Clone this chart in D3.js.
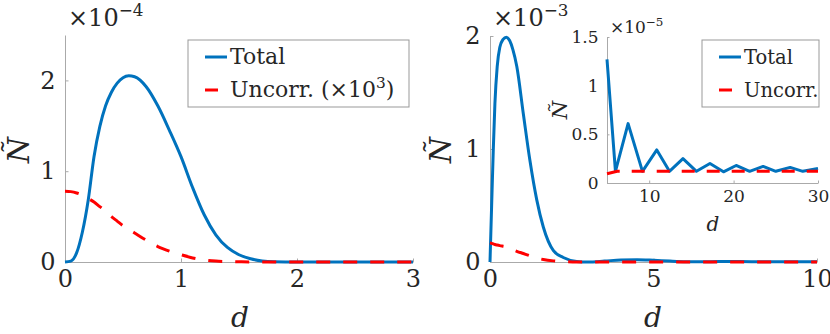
<!DOCTYPE html>
<html>
<head>
<meta charset="utf-8">
<script src="https://cdn.jsdelivr.net/npm/d3@7"></script>
<style>
  body { margin: 0; background: #fff; }
  svg text { font-family: "DejaVu Serif", "Liberation Serif", serif; fill: #262626; }
</style>
</head>
<body>
<svg id="chart" width="830" height="334"></svg>
<script>
// left panel, values in units of 1e-4 (uncorr already x1e3)
var leftD      = [0, 0.05, 0.1, 0.15, 0.2, 0.25, 0.3, 0.35, 0.4, 0.45, 0.5, 0.55, 0.6, 0.7, 0.8, 0.9, 1.0, 1.1, 1.2, 1.3, 1.4, 1.5, 1.6, 1.7, 1.8, 2.0, 2.5, 3.0];
var leftTotal  = [0, 0.01, 0.1, 0.33, 0.68, 1.16, 1.49, 1.72, 1.87, 1.97, 2.03, 2.05, 2.04, 1.93, 1.72, 1.45, 1.16, 0.82, 0.52, 0.3, 0.16, 0.08, 0.035, 0.012, 0.003, 0, 0, 0];
var leftUncorr = [0.78, 0.775, 0.76, 0.735, 0.7, 0.66, 0.61, 0.56, 0.5, 0.45, 0.4, 0.36, 0.32, 0.24, 0.17, 0.12, 0.08, 0.045, 0.022, 0.01, 0.005, 0.002, 0, 0, 0, 0, 0, 0];

// right panel, values in units of 1e-3
var rightD      = [0, 0.05, 0.1, 0.15, 0.22, 0.3, 0.4, 0.5, 0.6, 0.7, 0.82, 1.02, 1.22, 1.43, 1.63, 1.94, 2.24, 2.65, 3.0, 3.5, 4.0, 4.5, 5.0, 5.5, 6.0, 6.5, 7.0, 8.0, 9.0, 10.0];
var rightTotal  = [0, 0.5, 0.99, 1.4, 1.73, 1.9, 1.97, 1.99, 1.96, 1.88, 1.73, 1.31, 0.9, 0.55, 0.31, 0.1, 0.04, 0.005, 0, 0.008, 0.018, 0.02, 0.015, 0.008, 0.003, 0.002, 0.004, 0.003, 0.002, 0.002];
var rightUncorr = [0.17, 0.165, 0.16, 0.155, 0.15, 0.145, 0.14, 0.135, 0.125, 0.11, 0.095, 0.075, 0.055, 0.035, 0.022, 0.01, 0.004, 0, 0, 0, 0, 0, 0, 0, 0, 0, 0, 0, 0, 0];

// inset, values in units of 1e-5
var insetD      = [5, 6, 7.5, 9.2, 10.9, 12.4, 14, 15.6, 17.2, 18.8, 20.3, 21.9, 23.5, 25, 26.7, 28.2, 30];
var insetTotal  = [1.27, 0.12, 0.61, 0.12, 0.34, 0.12, 0.25, 0.12, 0.2, 0.115, 0.18, 0.12, 0.17, 0.12, 0.16, 0.12, 0.15];
var insetUncorrD = [5, 6.2, 30];
var insetUncorr  = [0.095, 0.12, 0.12];

var leftTicksX = [0, 1, 2, 3], leftTicksY = [0, 1, 2];
var rightTicksX = [0, 5, 10], rightTicksY = [0, 1, 2];
var insetTicksX = [10, 20, 30], insetTicksY = [0, 0.5, 1, 1.5];

var blue = "#0072BD", red = "#FF0000";
var svg = d3.select("#chart");

function panel(o) {
  var x = d3.scaleLinear().domain(o.xDom).range(o.xRange);
  var y = d3.scaleLinear().domain(o.yDom).range(o.yRange);
  var g = svg.append("g");
  if (o.bg) {
    g.append("rect").attr("x", o.xRange[0]).attr("y", o.yRange[1])
      .attr("width", o.xRange[1] - o.xRange[0]).attr("height", o.yRange[0] - o.yRange[1])
      .attr("fill", "#fff");
  }

  // axes: left and bottom only, ticks pointing inward
  var xAxis = d3.axisBottom(x).tickValues(o.xTicks).tickSizeInner(-o.tick).tickSizeOuter(0).tickPadding(o.tick + 4).tickFormat(d3.format("~g"));
  var yAxis = d3.axisLeft(y).tickValues(o.yTicks).tickSizeInner(-o.tick).tickSizeOuter(0).tickPadding(o.tick + 6).tickFormat(d3.format("~g"));
  var gx = g.append("g").attr("transform", "translate(0," + o.yRange[0] + ")").call(xAxis);
  var gy = g.append("g").attr("transform", "translate(" + o.xRange[0] + ",0)").call(yAxis);
  [gx, gy].forEach(function (a) {
    a.attr("font-family", null);
    a.select(".domain").attr("stroke", "#aaa");
    a.selectAll(".tick line").attr("stroke", "#aaa");
    a.selectAll("text").style("font-size", o.fs + "px").attr("fill", "#262626");
  });
  gx.selectAll("text").attr("dy", "0.71em");

  var line = d3.line().curve(o.curve).x(function (d) { return x(d[0]); }).y(function (d) { return y(d[1]); });
  g.append("path").datum(d3.zip(o.d, o.total)).attr("d", line)
    .attr("fill", "none").attr("stroke", blue).attr("stroke-width", 3).attr("stroke-linejoin", "round");
  g.append("path").datum(d3.zip(o.ud || o.d, o.uncorr)).attr("d", line)
    .attr("fill", "none").attr("stroke", red).attr("stroke-width", 3).attr("stroke-dasharray", o.dash);

  // exponent label
  var ex = g.append("text").attr("x", o.xRange[0] + 3).attr("y", o.expY).style("font-size", o.fs + "px");
  ex.append("tspan").text("×10");
  ex.append("tspan").attr("dy", -o.fs * 0.4).style("font-size", (o.fs * 0.7) + "px").text("−" + o.exp);

  // axis labels
  svg.append("text").attr("x", o.dLabel[0]).attr("y", o.dLabel[1]).attr("text-anchor", "middle")
    .style("font-size", o.lfs + "px").style("font-style", "italic").text("d");
  svg.append("text").attr("transform", "translate(" + o.nLabel[0] + "," + o.nLabel[1] + ") rotate(-90)")
    .attr("text-anchor", "middle").style("font-size", o.nfs + "px").style("font-style", "italic").text("Ñ");
}

function legend(x0, y0, w, h, labels, fs) {
  var g = svg.append("g");
  g.append("rect").attr("x", x0).attr("y", y0).attr("width", w).attr("height", h)
    .attr("fill", "#fff").attr("stroke", "#999").attr("stroke-width", 1);
  var rows = [{ c: blue, dash: null }, { c: red, dash: "13,20" }];
  labels.forEach(function (lab, i) {
    var cy = y0 + 17 + i * 33;
    g.append("line").attr("x1", x0 + 17).attr("x2", x0 + 39).attr("y1", cy).attr("y2", cy)
      .attr("stroke", rows[i].c).attr("stroke-width", 3).attr("stroke-dasharray", rows[i].dash);
    var t = g.append("text").attr("x", x0 + 42).attr("y", cy + 7).style("font-size", fs + "px");
    lab.forEach(function (part) {
      var s = t.append("tspan").text(part.t);
      if (part.sup) s.attr("dy", -9).style("font-size", (fs * 0.7) + "px");
      if (part.down) s.attr("dy", 9);
    });
  });
}

panel({ xDom: [0, 3], xRange: [65, 413], yDom: [0, 2.5], yRange: [262, 35], curve: d3.curveMonotoneX,
  xTicks: leftTicksX, yTicks: leftTicksY, tick: 3.5, fs: 24, lfs: 28, nfs: 30,
  d: leftD, total: leftTotal, uncorr: leftUncorr, dash: "14,13",
  exp: 4, expY: 26, dLabel: [240, 327], nLabel: [29, 150] });

panel({ xDom: [0, 10], xRange: [490, 817], yDom: [0, 2], yRange: [262, 36], curve: d3.curveMonotoneX,
  xTicks: rightTicksX, yTicks: rightTicksY, tick: 3.5, fs: 24, lfs: 28, nfs: 30,
  d: rightD, total: rightTotal, uncorr: rightUncorr, dash: "14,13",
  exp: 3, expY: 26, dLabel: [653, 327], nLabel: [451, 150] });

panel({ xDom: [5, 30], xRange: [607, 818], yDom: [0, 1.5], yRange: [183, 37], bg: true, curve: d3.curveLinear,
  xTicks: insetTicksX, yTicks: insetTicksY, tick: 2.5, fs: 17, lfs: 20, nfs: 21,
  d: insetD, total: insetTotal, ud: insetUncorrD, uncorr: insetUncorr, dash: "13,12",
  exp: 5, expY: 33, dLabel: [713, 231], nLabel: [567, 110] });

legend(188, 40, 221, 67, [[{ t: "Total" }], [{ t: "Uncorr. (×10" }, { t: "3", sup: true }, { t: ")", down: true }]], 22);
legend(702, 40, 117, 67, [[{ t: "Total" }], [{ t: "Uncorr." }]], 19.5);
</script>
</body>
</html>
